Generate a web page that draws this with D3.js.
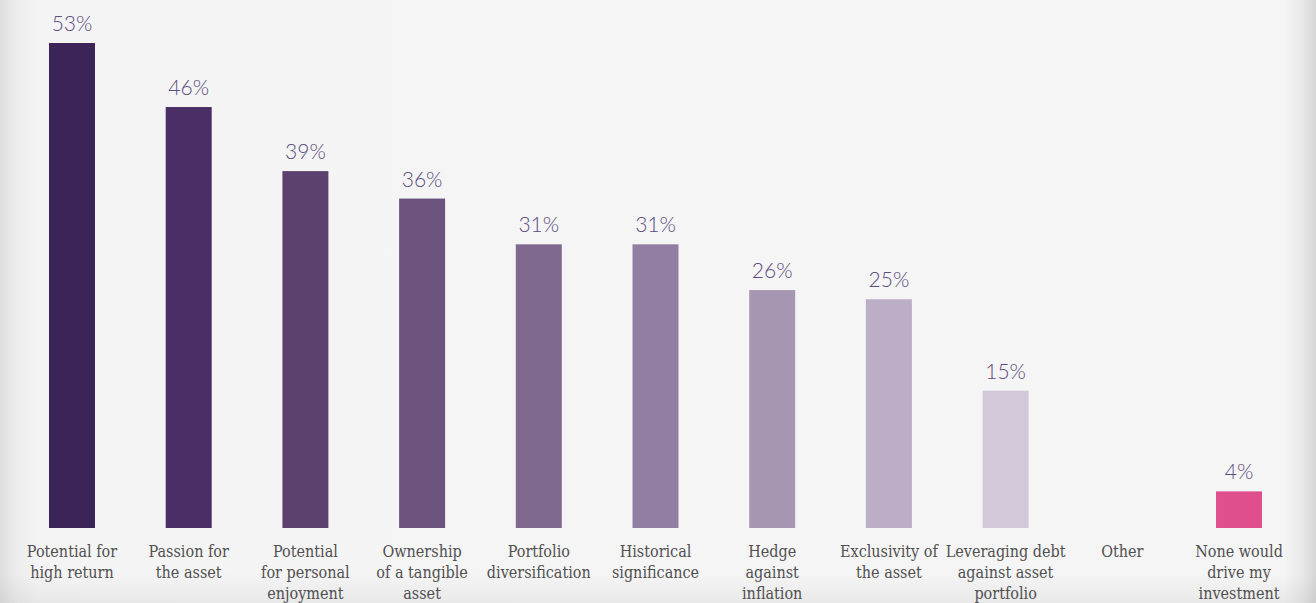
<!DOCTYPE html>
<html>
<head>
<meta charset="utf-8">
<script src="https://cdn.jsdelivr.net/npm/d3@7"></script>
<style>
  html, body { margin: 0; padding: 0; background: #f5f5f5; }
  svg { display: block; }
</style>
</head>
<body>
<svg id="chart" width="1316" height="603"></svg>
<script>
// Drivers of investment — share of respondents
const categories = [
  ["Potential for", "high return"],
  ["Passion for", "the asset"],
  ["Potential", "for personal", "enjoyment"],
  ["Ownership", "of a tangible", "asset"],
  ["Portfolio", "diversification"],
  ["Historical", "significance"],
  ["Hedge", "against", "inflation"],
  ["Exclusivity of", "the asset"],
  ["Leveraging debt", "against asset", "portfolio"],
  ["Other"],
  ["None would", "drive my", "investment"]
];
const values = [53, 46, 39, 36, 31, 31, 26, 25, 15, null, 4];
const barColors = [
  "#3c2459", "#4a2e66", "#5c406e", "#6c537d", "#7f688d",
  "#927ea2", "#a796b2", "#bdaec8", "#d2c8da", "#d2c8da", "#df4f8e"
];

const W = 1316, H = 603;
const svg = d3.select("#chart");

// backdrop with soft shading at the edges
const defs = svg.append("defs");
const lg = defs.append("linearGradient").attr("id", "edgeX").attr("x1", 0).attr("x2", 1);
[[0, "#dedede"], [0.012, "#ececec"], [0.03, "#f4f4f4"], [0.5, "#f5f5f5"],
 [0.975, "#f5f5f5"], [0.99, "#e8e8e8"], [1, "#d6d6d6"]]
  .forEach(([o, c]) => lg.append("stop").attr("offset", o).attr("stop-color", c));
const bg = defs.append("linearGradient").attr("id", "edgeY").attr("x1", 0).attr("x2", 0).attr("y1", 0).attr("y2", 1);
[[0, "#000", 0], [0.95, "#000", 0], [1, "#000", 0.05]]
  .forEach(([o, c, a]) => bg.append("stop").attr("offset", o).attr("stop-color", c).attr("stop-opacity", a));

svg.append("rect").attr("width", W).attr("height", H).attr("fill", "url(#edgeX)");
svg.append("rect").attr("width", W).attr("height", H).attr("fill", "url(#edgeY)");

const x = d3.scaleBand()
  .domain(d3.range(categories.length))
  .range([13.65, 1297.35])
  .padding(0);
const barW = x.bandwidth() * 0.394;

const y = d3.scaleLinear().domain([0, 53]).range([528, 43]);

const g = svg.append("g");

const idx = d3.range(categories.length).filter(i => values[i] != null);

g.selectAll("rect.bar")
  .data(idx)
  .join("rect")
  .attr("class", "bar")
  .attr("x", i => x(i) + x.bandwidth() / 2 - barW / 2)
  .attr("y", i => y(values[i]))
  .attr("width", barW)
  .attr("height", i => y(0) - y(values[i]))
  .attr("fill", i => barColors[i]);

g.selectAll("text.val")
  .data(idx)
  .join("text")
  .attr("class", "val")
  .attr("x", i => x(i) + x.bandwidth() / 2)
  .attr("y", i => y(values[i]) - 12)
  .attr("text-anchor", "middle")
  .attr("font-family", "Lato, 'Open Sans', sans-serif")
  .attr("font-weight", 300)
  .attr("font-size", 21)
  .attr("fill", "#5c4b7e")
  .text(i => values[i] + "%");

const labels = g.selectAll("text.cat")
  .data(d3.range(categories.length))
  .join("text")
  .attr("class", "cat")
  .attr("x", i => x(i) + x.bandwidth() / 2)
  .attr("y", 557)
  .attr("text-anchor", "middle")
  .attr("font-family", "'DejaVu Serif', serif")
  .attr("font-stretch", "condensed")
  .attr("font-size", 16)
  .attr("fill", "#505050");

labels.selectAll("tspan")
  .data(i => categories[i].map(t => ({ t, i })))
  .join("tspan")
  .attr("x", d => x(d.i) + x.bandwidth() / 2)
  .attr("dy", (d, k) => k === 0 ? 0 : 21)
  .text(d => d.t);
</script>
</body>
</html>
